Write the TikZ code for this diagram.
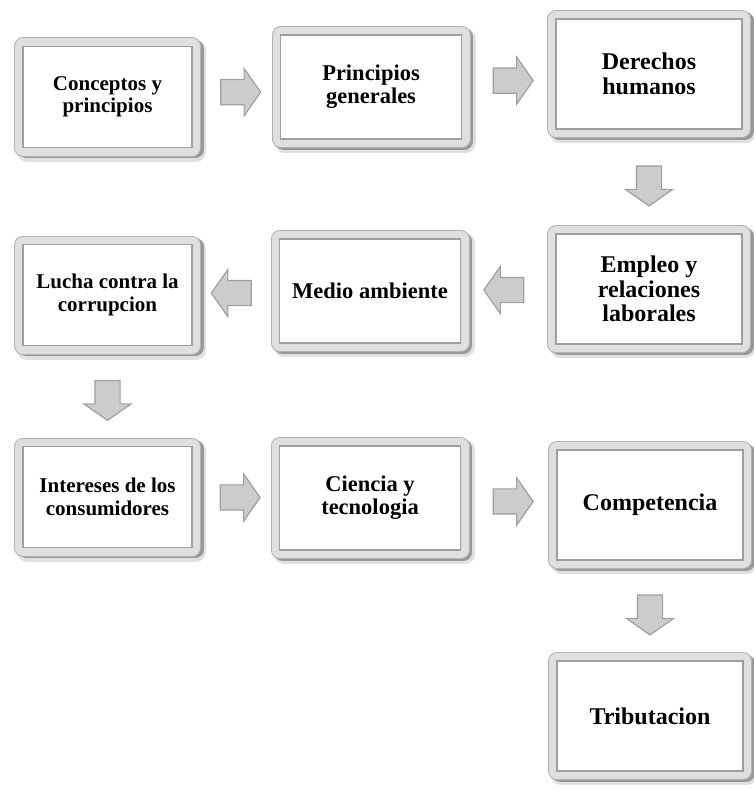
\documentclass[tikz,border=0pt]{standalone}
\usepackage{fontspec}
\setmainfont{Liberation Serif}
\usetikzlibrary{shapes.arrows}

\begin{document}
\begin{tikzpicture}[x=1pt,y=-1pt,
    box/.style={rectangle, align=center, inner sep=2pt, fill=white, draw=gray!75, line width=1.6pt,
        preaction={draw=black!12, line width=20pt, line join=round, transform canvas={shift={(4pt,-4pt)}}},
        preaction={draw=gray!80, line width=17pt, line join=round, transform canvas={shift={(3pt,-2pt)}}},
        preaction={draw=gray!60, line width=18pt, line join=round},
        preaction={draw=gray!25, line width=16pt, line join=round}},
    lbox/.style={box, minimum width=169pt, minimum height=101pt, font=\fontsize{21}{22.5}\selectfont\bfseries},
    mbox/.style={box, minimum width=181pt, minimum height=104pt, font=\fontsize{22.5}{23}\selectfont\bfseries},
    rbox/.style={box, minimum width=186pt, minimum height=110pt, font=\fontsize{24}{24.5}\selectfont\bfseries},
    rarrow/.style={single arrow, draw=gray!75, fill=gray!40, line width=1.2pt, inner sep=12pt,
        minimum height=40pt, single arrow head extend=11pt, single arrow tip angle=110},
    larrow/.style={rarrow, shape border rotate=180},
    darrow/.style={rarrow, shape border rotate=270}]
    \useasboundingbox (0,0) rectangle (753,789);

    % first row
    \node[lbox] (conceptos) at (107.5,97) {Conceptos y\\principios};
    \node[mbox] (principios) at (371,87) {Principios\\generales};
    \node[rbox] (derechos) at (649,74) {Derechos\\humanos};

    % second row
    \node[rbox] (empleo) at (649,289) {Empleo y\\relaciones\\laborales};
    \node[mbox] (medio) at (370,291) {Medio ambiente};
    \node[lbox] (lucha) at (107.5,295) {Lucha contra la\\corrupcion};

    % third row
    \node[lbox] (intereses) at (107.5,497) {Intereses de los\\consumidores};
    \node[mbox] (ciencia) at (370,498) {Ciencia y\\tecnologia};
    \node[rbox] (competencia) at (650,505) {Competencia};
    \node[rbox] (tributacion) at (650,716) {Tributacion};

    % block arrows
    \path (conceptos) -- node[rarrow] {} (principios);
    \path (principios) -- node[rarrow] {} (derechos);
    \path (derechos) -- node[darrow] {} (empleo);
    \path (empleo) -- node[larrow] {} (medio);
    \path (medio) -- node[larrow] {} (lucha);
    \path (lucha) -- node[darrow] {} (intereses);
    \path (intereses) -- node[rarrow] {} (ciencia);
    \path (ciencia) -- node[rarrow] {} (competencia);
    \path (competencia) -- node[darrow] {} (tributacion);
\end{tikzpicture}
\end{document}
